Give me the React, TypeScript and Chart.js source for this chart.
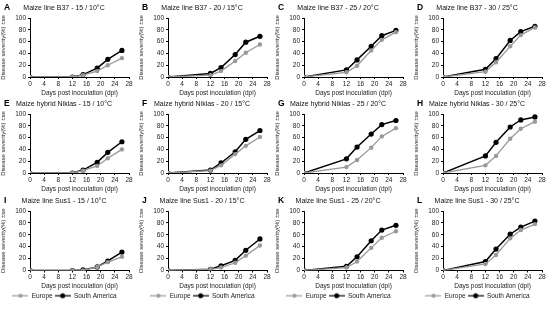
import React, { useEffect, useRef } from "react";
import { Chart, registerables } from "chart.js";
Chart.register(...registerables);

const days = [0, 12, 15, 19, 22, 26];
const yTickStep = 20;
const xTickStep = 4;
const seriesNames = ["Europe", "South America"];
const panelLetters = ["A", "B", "C", "D", "E", "F", "G", "H", "I", "J", "K", "L"];
const panelTitles = [
  "Maize line B37 - 15 / 10°C",
  "Maize line B37 - 20 / 15°C",
  "Maize line B37 - 25 / 20°C",
  "Maize line B37 - 30 / 25°C",
  "Maize hybrid Niklas - 15 / 10°C",
  "Maize hybrid Niklas - 20 / 15°C",
  "Maize hybrid Niklas - 25 / 20°C",
  "Maize hybrid Niklas - 30 / 25°C",
  "Maize line Sus1 - 15 / 10°C",
  "Maize line Sus1 - 20 / 15°C",
  "Maize line Sus1 - 25 / 20°C",
  "Maize line Sus1 - 30 / 25°C",
];

const europeA = [0, 0, 3, 10, 20, 32];
const southAmericaA = [0, 0, 4, 15, 30, 45];
const europeB = [0, 3, 10, 27, 41, 55];
const southAmericaB = [0, 6, 16, 38, 59, 69];
const europeC = [0, 8, 19, 45, 63, 76];
const southAmericaC = [0, 12, 29, 52, 70, 79];
const europeD = [0, 9, 25, 52, 71, 84];
const southAmericaD = [0, 13, 31, 62, 77, 86];
const europeE = [0, 0, 4, 12, 25, 40];
const southAmericaE = [0, 0, 5, 18, 35, 53];
const europeF = [0, 4, 13, 32, 46, 61];
const southAmericaF = [0, 5, 17, 36, 57, 72];
const europeG = [0, 10, 22, 43, 62, 76];
const southAmericaG = [0, 24, 44, 66, 82, 89];
const europeH = [0, 13, 29, 58, 75, 87];
const southAmericaH = [0, 29, 52, 78, 90, 95];
const europeI = [0, 0, 0, 6, 14, 23];
const southAmericaI = [0, 0, 1, 6, 16, 31];
const europeJ = [0, 2, 5, 13, 25, 42];
const southAmericaJ = [0, 2, 8, 17, 34, 53];
const europeK = [0, 5, 15, 38, 55, 66];
const southAmericaK = [0, 7, 23, 50, 68, 76];
const europeL = [0, 11, 26, 54, 68, 78];
const southAmericaL = [0, 15, 36, 61, 73, 83];

const europeSeries = [europeA, europeB, europeC, europeD, europeE, europeF, europeG, europeH, europeI, europeJ, europeK, europeL];
const southAmericaSeries = [southAmericaA, southAmericaB, southAmericaC, southAmericaD, southAmericaE, southAmericaF, southAmericaG, southAmericaH, southAmericaI, southAmericaJ, southAmericaK, southAmericaL];

const FONT = "Arial, 'Liberation Sans', sans-serif";
const GRAY = "#999999";
const BLACK = "#000000";

const colLefts = [0, 138, 274, 413];
const rowTops = [0, 96, 193];
const PANEL_W = 137;
const ROW_H = 97;
const LAST_ROW_H = 116;

function makeLegendIcon(color: string, r: number) {
  const c = document.createElement("canvas");
  c.width = 16;
  c.height = 8;
  const ctx = c.getContext("2d")!;
  ctx.strokeStyle = color;
  ctx.lineWidth = 1.2;
  ctx.beginPath();
  ctx.moveTo(0, 4);
  ctx.lineTo(16, 4);
  ctx.stroke();
  ctx.fillStyle = color;
  ctx.beginPath();
  ctx.arc(8, 4, r, 0, Math.PI * 2);
  ctx.fill();
  return c;
}

const panelTextPlugin = {
  id: "panelText",
  afterDraw(chart: any, _args: any, opts: any) {
    const ctx = chart.ctx;
    ctx.save();
    ctx.fillStyle = "#000";
    ctx.textBaseline = "middle";
    ctx.textAlign = "left";
    ctx.font = `bold 8.5px ${FONT}`;
    ctx.fillText(opts.letter, 4, 8);
    ctx.fillStyle = "#111";
    ctx.textAlign = "center";
    ctx.font = `7px ${FONT}`;
    ctx.fillText(opts.title, 64, 8);
    ctx.restore();
  },
};

function Panel({ index, left, top, height, legend }: { index: number; left: number; top: number; height: number; legend: boolean }) {
  const ref = useRef<HTMLCanvasElement>(null);
  useEffect(() => {
    const icons = [makeLegendIcon(GRAY, 2), makeLegendIcon(BLACK, 2.5)];
    const chart = new Chart(ref.current!, {
      type: "line",
      data: {
        datasets: [
          {
            label: seriesNames[0],
            data: days.map((d, i) => ({ x: d, y: europeSeries[index][i] })),
            borderColor: GRAY,
            backgroundColor: GRAY,
            borderWidth: 1.3,
            pointRadius: 2.2,
            pointBorderWidth: 0,
            pointBackgroundColor: GRAY,
          },
          {
            label: seriesNames[1],
            data: days.map((d, i) => ({ x: d, y: southAmericaSeries[index][i] })),
            borderColor: BLACK,
            backgroundColor: BLACK,
            borderWidth: 1.5,
            pointRadius: 2.6,
            pointBorderWidth: 0,
            pointBackgroundColor: BLACK,
          },
        ],
      },
      options: {
        responsive: false,
        animation: false,
        events: [],
        layout: { padding: { top: 18, right: 8, left: 0, bottom: 0 } },
        plugins: {
          tooltip: { enabled: false },
          title: { display: false },
          legend: {
            display: legend,
            position: "bottom",
            labels: {
              usePointStyle: true,
              pointStyleWidth: 16,
              boxHeight: 6,
              padding: 2,
              color: "#222",
              font: { family: FONT, size: 6.5 },
              generateLabels: (ch: any) =>
                ch.data.datasets.map((ds: any, i: number) => ({
                  text: ds.label,
                  pointStyle: icons[i],
                  fillStyle: ds.borderColor,
                  strokeStyle: ds.borderColor,
                  lineWidth: 0,
                  hidden: false,
                  datasetIndex: i,
                  fontColor: "#222",
                })),
            },
          },
          panelText: { letter: panelLetters[index], title: panelTitles[index] },
        } as any,
        scales: {
          x: {
            type: "linear",
            min: 0,
            max: 28,
            ticks: { stepSize: xTickStep, autoSkip: false, color: "#222", padding: 1, maxRotation: 0, font: { family: FONT, size: 6.5 } },
            grid: { drawOnChartArea: false, drawTicks: true, tickLength: 2, color: "#000" },
            border: { color: "#000", width: 1 },
            title: { display: true, text: "Days post inoculation (dpi)", color: "#222", padding: { top: 1, bottom: 0 }, font: { family: FONT, size: 6.5 } },
            afterFit: (s: any) => {
              s.height = 20;
            },
          },
          y: {
            min: 0,
            max: 100,
            ticks: { stepSize: yTickStep, autoSkip: false, color: "#222", padding: 2, font: { family: FONT, size: 6.5 } },
            grid: { drawOnChartArea: false, drawTicks: true, tickLength: 2, color: "#000" },
            border: { color: "#000", width: 1 },
            title: { display: true, text: "Disease severity(%) ±se", color: "#222", padding: 0, font: { family: FONT, size: 6 } },
            afterFit: (s: any) => {
              s.width = 30;
            },
          },
        },
      },
      plugins: [panelTextPlugin],
    });
    return () => chart.destroy();
  }, [index, legend]);
  return (
    <canvas
      ref={ref}
      width={PANEL_W}
      height={height}
      style={{ position: "absolute", left, top, width: PANEL_W, height }}
    />
  );
}

export default function App() {
  const panels = [];
  for (let r = 0; r < 3; r++) {
    for (let c = 0; c < 4; c++) {
      const idx = r * 4 + c;
      panels.push(
        <Panel key={idx} index={idx} left={colLefts[c]} top={rowTops[r]} height={r === 2 ? LAST_ROW_H : ROW_H} legend={r === 2} />
      );
    }
  }
  return <div style={{ position: "absolute", left: 0, top: 0, width: 550, height: 309, background: "#fff" }}>{panels}</div>;
}
